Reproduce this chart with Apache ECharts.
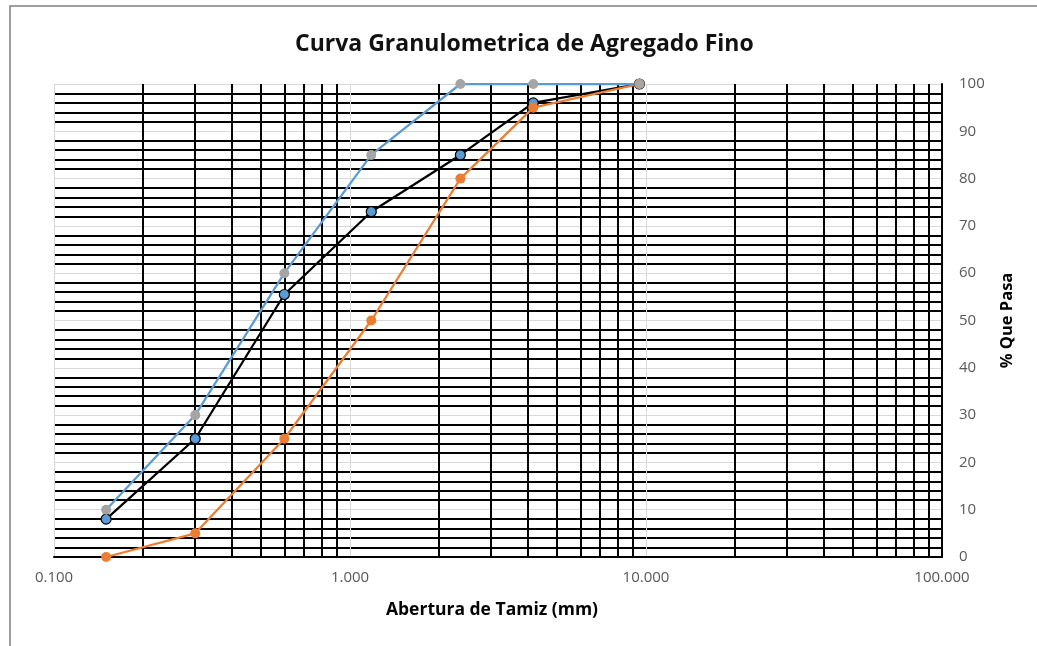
<!DOCTYPE html>
<html>
<head>
<meta charset="utf-8">
<script src="https://cdn.jsdelivr.net/npm/echarts@6/dist/echarts.min.js"></script>
<style>html,body{margin:0;padding:0;background:#fff}#c{width:1037px;height:646px}</style>
</head>
<body>
<div id="c"></div>
<script>
// Sieve openings (mm)
var aberturas = [0.15, 0.3, 0.6, 1.18, 2.36, 4.16, 9.5];
// % passing for each curve
var limiteSuperior = [10, 30, 60, 85, 100, 100, 100];   // blue line, gray markers
var muestra = [8, 25, 55.5, 73, 85, 96, 100];            // black line, blue markers
var limiteInferior = [0, 5, 25, 50, 80, 95, 100];        // orange
var yTicks = [0, 10, 20, 30, 40, 50, 60, 70, 80, 90, 100];
var xTickLabels = ['0.100', '1.000', '10.000', '100.000'];

function pairs(xs, ys) { return xs.map(function (x, i) { return [x, ys[i]]; }); }

var FONT = '"Open Sans", "DejaVu Sans", sans-serif';
var chart = echarts.init(document.getElementById('c'), null, {renderer: 'canvas'});
chart.setOption({
  animation: false,
  backgroundColor: '#fff',
  title: {
    text: 'Curva Granulometrica de Agregado Fino',
    left: 290, top: 28,
    textStyle: {fontFamily: FONT, fontWeight: 'bold', fontSize: 23, color: '#111'}
  },
  graphic: [{
    type: 'rect', silent: true, z: -1,
    shape: {x: 10, y: 6, width: 1200, height: 800},
    style: {fill: 'none', stroke: '#7f7f7f', lineWidth: 1.5}
  }],
  grid: {left: 54, right: 95, top: 84, bottom: 89, containLabel: false},
  xAxis: {
    type: 'log', logBase: 10, min: 0.1, max: 100,
    name: 'Abertura de Tamiz (mm)', nameLocation: 'middle', nameGap: 44,
    nameTextStyle: {fontFamily: FONT, fontWeight: 'bold', fontSize: 17.5, color: '#000', padding: [0, 12, 0, 0]},
    axisLine: {show: true, lineStyle: {color: '#000', width: 2}},
    axisTick: {show: false},
    axisLabel: {
      margin: 13, fontFamily: FONT, fontSize: 15, color: '#595959',
      formatter: function (v) { return Number(v).toFixed(3); }
    },
    splitLine: {show: true, lineStyle: {color: '#d9d9d9', width: 1}},
    minorTick: {show: false, splitNumber: 9},
    minorSplitLine: {show: true, lineStyle: {color: '#000', width: 2}}
  },
  yAxis: {
    type: 'value', position: 'right', min: 0, max: 100, interval: 10,
    name: '% Que Pasa', nameLocation: 'middle', nameGap: 57, nameRotate: 90,
    nameTextStyle: {fontFamily: FONT, fontWeight: 'bold', fontSize: 16.5, color: '#000'},
    axisLine: {show: true, lineStyle: {color: '#000', width: 2}},
    axisTick: {show: false},
    axisLabel: {margin: 17, fontFamily: FONT, fontSize: 15, color: '#595959'},
    splitLine: {show: true, lineStyle: {color: '#d9d9d9', width: 1}},
    minorTick: {show: false, splitNumber: 5},
    minorSplitLine: {show: true, lineStyle: {color: '#000', width: 2}}
  },
  series: [
    {
      name: 'Muestra', type: 'line', data: pairs(aberturas, muestra),
      symbol: 'circle', symbolSize: 10,
      lineStyle: {color: '#000', width: 2.25},
      itemStyle: {color: '#5B9BD5', borderColor: '#000', borderWidth: 1.2}
    },
    {
      name: 'Limite Inferior', type: 'line', data: pairs(aberturas, limiteInferior),
      symbol: 'circle', symbolSize: 10,
      lineStyle: {color: '#ED7D31', width: 2.25},
      itemStyle: {color: '#ED7D31', borderWidth: 0}
    },
    {
      name: 'Limite Superior', type: 'line', data: pairs(aberturas, limiteSuperior),
      symbol: 'circle', symbolSize: 10,
      lineStyle: {color: '#5B9BD5', width: 2.25},
      itemStyle: {color: '#A5A5A5', borderWidth: 0}
    }
  ]
});
</script>
</body>
</html>
